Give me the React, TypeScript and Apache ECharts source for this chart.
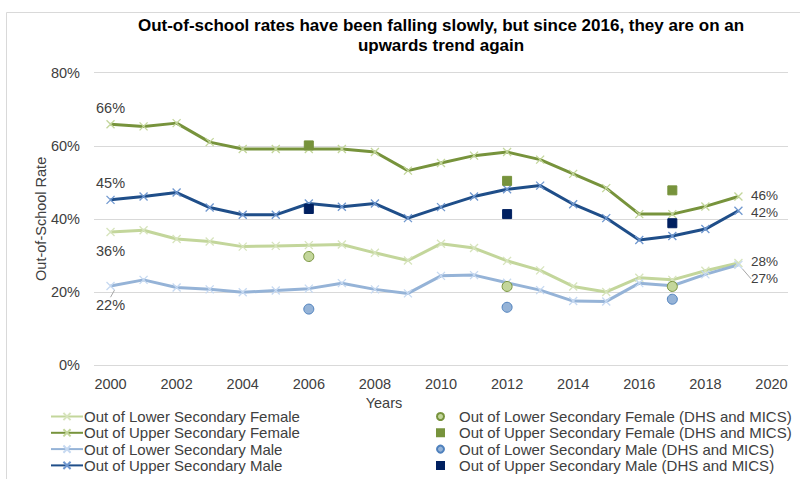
import React, { useEffect, useRef } from "react";
import * as echarts from "echarts";

const years = [2000, 2001, 2002, 2003, 2004, 2005, 2006, 2007, 2008, 2009, 2010, 2011, 2012, 2013, 2014, 2015, 2016, 2017, 2018, 2019];
const lowerFemale = [36.4, 36.9, 34.5, 33.8, 32.4, 32.6, 32.8, 33.0, 30.7, 28.6, 33.2, 32.0, 28.5, 25.9, 21.5, 20.0, 23.9, 23.3, 25.8, 27.9];
const upperFemale = [65.9, 65.3, 66.2, 61.0, 59.1, 59.1, 59.1, 59.1, 58.3, 53.2, 55.3, 57.3, 58.3, 56.2, 52.3, 48.4, 41.3, 41.3, 43.4, 46.1];
const lowerMale = [21.6, 23.3, 21.2, 20.7, 19.9, 20.4, 20.9, 22.4, 20.7, 19.6, 24.4, 24.6, 22.5, 20.5, 17.5, 17.4, 22.4, 21.7, 24.8, 27.4];
const upperMale = [45.2, 46.1, 47.2, 43.1, 41.1, 41.1, 44.2, 43.3, 44.2, 40.2, 43.2, 46.1, 48.1, 49.1, 44.0, 40.2, 34.2, 35.3, 37.2, 42.2];

const surveyYears = [2006, 2012, 2017];
const surveyLowerFemale = [29.7, 21.5, 21.5];
const surveyUpperFemale = [60.1, 50.4, 47.8];
const surveyLowerMale = [15.3, 15.8, 18.0];
const surveyUpperMale = [42.7, 41.3, 38.8];

const xTickLabels = [2000, 2002, 2004, 2006, 2008, 2010, 2012, 2014, 2016, 2018, 2020];
const yTickLabels = [0, 20, 40, 60, 80];

const TXT = "#404040";
const FONT = "'Liberation Sans', Arial, sans-serif";
const XPATH = "path://M0,0L10,10M10,0L0,10";

function lineData(vals: number[], firstPos: string, lastPos: string) {
  return vals.map((v, i) => {
    const item: any = { value: [years[i], v] };
    if (i === 0) {
      item.label = { show: true, position: firstPos, distance: firstPos === "top" ? 6 : 8 };
    } else if (i === vals.length - 1) {
      item.label = { show: true, position: lastPos, distance: 8, fontSize: 13.5 };
    }
    return item;
  });
}

function endNudge(dy: number) {
  return (p: any) => (p.dataIndex === years.length - 1 ? { dy } : {});
}

function lineSeries(name: string, vals: number[], color: string, markColor: string, firstPos: string, lastPos: string, extra: any = {}) {
  return {
    name,
    type: "line",
    data: lineData(vals, firstPos, lastPos),
    symbol: XPATH,
    symbolSize: 8,
    showAllSymbol: true,
    lineStyle: { color, width: 3 },
    itemStyle: { color, borderColor: markColor, borderWidth: 1.3 },
    label: {
      show: false,
      formatter: (p: any) => Math.round(p.value[1]) + "%",
      color: TXT,
      fontSize: 14.5,
      lineHeight: 12,
      fontFamily: FONT,
    },
    z: 2,
    ...extra,
  };
}

function scatterSeries(name: string, vals: number[], symbol: string, size: number, color: string, border: string) {
  return {
    name,
    type: "scatter",
    data: vals.map((v, i) => [surveyYears[i], v]),
    symbol,
    symbolSize: size,
    itemStyle: { color, borderColor: border, borderWidth: 1, opacity: 1 },
    z: 5,
  };
}

export default function App() {
  const ref = useRef<HTMLDivElement>(null);
  useEffect(() => {
    if (!ref.current) return;
    const chart = echarts.init(ref.current, null, { renderer: "svg" });
    const option: any = {
      animation: false,
      backgroundColor: "#fff",
      textStyle: { fontFamily: FONT },
      graphic: [
        {
          type: "rect",
          shape: { x: 6.5, y: 12.5, width: 820, height: 500 },
          style: { fill: "none", stroke: "#D9D9D9", lineWidth: 1 },
          silent: true,
          z: -1,
        },
        {
          type: "text",
          x: 441,
          y: 35,
          style: {
            text: "Out-of-school rates have been falling slowly, but since 2016, they are on an\nupwards trend again",
            fill: "#000",
            font: "bold 17px " + FONT,
            align: "center",
            verticalAlign: "middle",
            lineHeight: 20,
          },
        },
      ],
      grid: { left: 94, right: 12, top: 72.7, bottom: 114, containLabel: false },
      xAxis: {
        type: "value",
        min: 1999.5,
        max: 2020.5,
        name: "Years",
        nameLocation: "middle",
        nameGap: 30,
        nameMoveOverlap: false,
        nameTextStyle: { color: TXT, fontSize: 14.5, fontFamily: FONT, padding: [0, 114, 0, 0] },
        axisLine: { show: false },
        axisTick: { show: false },
        splitLine: { show: false },
        axisLabel: {
          customValues: xTickLabels,
          formatter: (v: number) => String(v),
          color: TXT,
          fontSize: 14.5,
          fontFamily: FONT,
          margin: 11,
        },
      },
      yAxis: {
        type: "value",
        min: 0,
        max: 80,
        interval: 20,
        name: "Out-of-School Rate",
        nameLocation: "middle",
        nameGap: 46,
        nameMoveOverlap: false,
        nameTextStyle: { color: TXT, fontSize: 14.5, fontFamily: FONT },
        axisLine: { show: false },
        axisTick: { show: false },
        splitLine: { lineStyle: { color: "#D9D9D9", width: 1 } },
        axisLabel: {
          customValues: yTickLabels,
          formatter: (v: number) => v + "%",
          color: TXT,
          fontSize: 14.5,
          fontFamily: FONT,
          margin: 14,
        },
      },
      legend: [
        {
          orient: "vertical",
          left: 50,
          top: 409,
          padding: 0,
          itemWidth: 32,
          itemHeight: 9,
          itemGap: 1.3,
          textStyle: { color: TXT, fontSize: 15, fontFamily: FONT, lineHeight: 14, padding: [0, 0, 0, -4] },
          data: [
            "Out of Lower Secondary Female",
            "Out of Upper Secondary Female",
            "Out of Lower Secondary Male",
            "Out of Upper Secondary Male",
          ],
        },
        {
          orient: "vertical",
          left: 436,
          top: 409,
          padding: 0,
          itemWidth: 7,
          itemHeight: 7,
          itemGap: 1.3,
          textStyle: { color: TXT, fontSize: 15, fontFamily: FONT, lineHeight: 14, padding: [0, 0, 0, 10] },
          data: [
            "Out of Lower Secondary Female (DHS and MICS)",
            "Out of Upper Secondary Female (DHS and MICS)",
            "Out of Lower Secondary Male (DHS and MICS)",
            "Out of Upper Secondary Male (DHS and MICS)",
          ],
        },
      ],
      series: [
        lineSeries("Out of Lower Secondary Female", lowerFemale, "#C3D69B", "#D7E4BD", "bottom", "right", {
          labelLayout: endNudge(-1.5),
        }),
        lineSeries("Out of Upper Secondary Female", upperFemale, "#77933C", "#C3D69B", "top", "right", {
          labelLayout: endNudge(-1.5),
        }),
        lineSeries("Out of Lower Secondary Male", lowerMale, "#95B3D7", "#C6D9F1", "bottom", "right", {
          labelLayout: endNudge(14),
          labelLine: { show: true, lineStyle: { color: "#A6A6A6", width: 1 } },
        }),
        lineSeries("Out of Upper Secondary Male", upperMale, "#1F4E89", "#6F97CF", "top", "right", {
          labelLayout: endNudge(1.5),
        }),
        scatterSeries("Out of Lower Secondary Female (DHS and MICS)", surveyLowerFemale, "circle", 10, "#C3D69B", "#77933C"),
        scatterSeries("Out of Upper Secondary Female (DHS and MICS)", surveyUpperFemale, "rect", 9, "#77933C", "#77933C"),
        scatterSeries("Out of Lower Secondary Male (DHS and MICS)", surveyLowerMale, "circle", 10, "#95B3D7", "#4F81BD"),
        scatterSeries("Out of Upper Secondary Male (DHS and MICS)", surveyUpperMale, "rect", 9, "#002060", "#002060"),
      ],
    };
    chart.setOption(option);
    return () => chart.dispose();
  }, []);
  return (
    <div
      ref={ref}
      style={{ position: "absolute", left: 0, top: 0, width: 800, height: 479 }}
    />
  );
}
